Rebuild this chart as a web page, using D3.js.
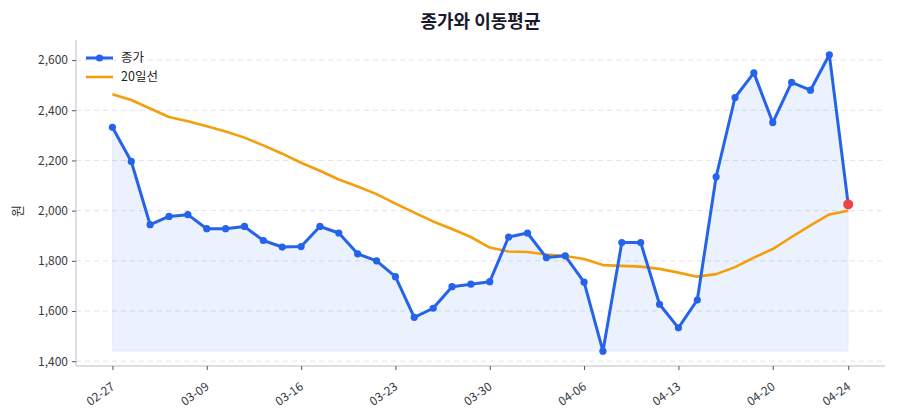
<!DOCTYPE html>
<html><head><meta charset="utf-8">
<script src="https://cdn.jsdelivr.net/npm/d3@7"></script>
<style>
body{margin:0;background:#fff;}
text{font-family:"Noto Sans CJK KR","Noto Sans",sans-serif;}
</style></head>
<body><svg id="c" width="900" height="420"></svg>
<script>
const dates = ["02-27","03-03","03-04","03-05","03-06","03-09","03-10","03-11","03-12","03-13",
"03-16","03-17","03-18","03-19","03-20","03-23","03-24","03-25","03-26","03-27",
"03-30","03-31","04-01","04-02","04-03","04-06","04-07","04-08","04-09","04-10",
"04-13","04-14","04-15","04-16","04-17","04-20","04-21","04-22","04-23","04-24"];
const close = [2332,2196,1944,1977,1984,1928,1928,1937,1881,1855,
1857,1937,1911,1828,1800,1737,1575,1611,1697,1707,
1717,1895,1911,1813,1820,1715,1440,1873,1873,1627,
1533,1644,2135,2451,2549,2351,2511,2480,2621,2025];
const ma20 = [2464,2441,2407,2373,2356,2336,2315,2291,2260,2227,
2191,2159,2124,2096,2066,2028,1992,1957,1927,1895,
1853,1837,1835,1825,1819,1807,1783,1780,1777,1768,
1753,1737,1747,1775,1813,1847,1895,1941,1985,2000];
const tickIdx = [0,5,10,15,20,25,30,35,39];
const yTicks = [1400,1600,1800,2000,2200,2400,2600];

const svg = d3.select("#c");
const L=76,R=885,T=40,B=366;
const n = dates.length;
const x = d3.scaleLinear().domain([-1.93, n-1+1.95]).range([L,R]);
const mn = d3.min(close), mx = d3.max(close), pad=(mx-mn)*0.05;
const y = d3.scaleLinear().domain([mn-pad, mx+pad]).range([B,T]);

// grid
svg.append("g").selectAll("line").data(yTicks).join("line")
  .attr("x1",L).attr("x2",R).attr("y1",d=>y(d)).attr("y2",d=>y(d))
  .attr("stroke","#e3e3e8").attr("stroke-width",1).attr("stroke-dasharray","5,4");

// area
const area = d3.area().x((d,i)=>x(i)).y0(y(mn)).y1(d=>y(d));
svg.append("path").datum(close).attr("d",area)
  .attr("fill","#2563eb").attr("fill-opacity",0.09)
  .attr("stroke","#2563eb").attr("stroke-opacity",0.06);

// MA line
const line = d3.line().x((d,i)=>x(i)).y(d=>y(d));
svg.append("path").datum(ma20).attr("d",line).attr("fill","none")
  .attr("stroke","#f59e0b").attr("stroke-width",2.6).attr("stroke-linejoin","round");

// close line
svg.append("path").datum(close).attr("d",line).attr("fill","none")
  .attr("stroke","#2563eb").attr("stroke-width",3).attr("stroke-linejoin","round");
svg.append("g").selectAll("circle").data(close.slice(0,n-1)).join("circle")
  .attr("cx",(d,i)=>x(i)).attr("cy",d=>y(d)).attr("r",3.6).attr("fill","#2563eb");
svg.append("circle").attr("cx",x(n-1)).attr("cy",y(close[n-1])).attr("r",5).attr("fill","#ef4444");

// axes
const yAxis = d3.axisLeft(y).tickValues(yTicks).tickFormat(d3.format(",")).tickSize(4).tickPadding(4);
const gy = svg.append("g").attr("transform",`translate(${L},0)`).call(yAxis);
gy.select(".domain").attr("stroke","#d0d3da").attr("stroke-width",1.5).attr("d",`M0,${T}V${B}`);
gy.selectAll(".tick line").attr("stroke","#555");
gy.selectAll(".tick text").attr("fill","#333a45").attr("font-size",12);

const xAxis = d3.axisBottom(x).tickValues(tickIdx).tickFormat(i=>dates[i]).tickSize(4).tickPadding(4);
const gx = svg.append("g").attr("transform",`translate(0,${B})`).call(xAxis);
gx.select(".domain").attr("stroke","#d0d3da").attr("stroke-width",1.5).attr("d",`M${L},0H${R}`);
gx.selectAll(".tick line").attr("stroke","#555");
gx.selectAll(".tick text").attr("fill","#333a45").attr("font-size",12)
  .attr("text-anchor","end").attr("dy","0.3em")
  .attr("transform","translate(-4,13) rotate(-35)");

// y label
svg.append("text").attr("transform","translate(22,211) rotate(-90)")
  .attr("text-anchor","middle").attr("font-size",13).attr("fill","#333").text("원");

// title
svg.append("text").attr("x",(L+R)/2).attr("y",28).attr("text-anchor","middle")
  .attr("font-size",18).attr("font-weight","bold").attr("fill","#1a1a2e").text("종가와 이동평균");

// legend
const lg = svg.append("g");
lg.append("line").attr("x1",86).attr("x2",113).attr("y1",58).attr("y2",58).attr("stroke","#2563eb").attr("stroke-width",3);
lg.append("circle").attr("cx",99.5).attr("cy",58).attr("r",3.6).attr("fill","#2563eb");
lg.append("text").attr("x",121).attr("y",62).attr("font-size",12.5).attr("fill","#222").text("종가");
lg.append("line").attr("x1",86).attr("x2",113).attr("y1",77).attr("y2",77).attr("stroke","#f59e0b").attr("stroke-width",2.6);
lg.append("text").attr("x",121).attr("y",81).attr("font-size",12.5).attr("fill","#222").text("20일선");
</script></body></html>
